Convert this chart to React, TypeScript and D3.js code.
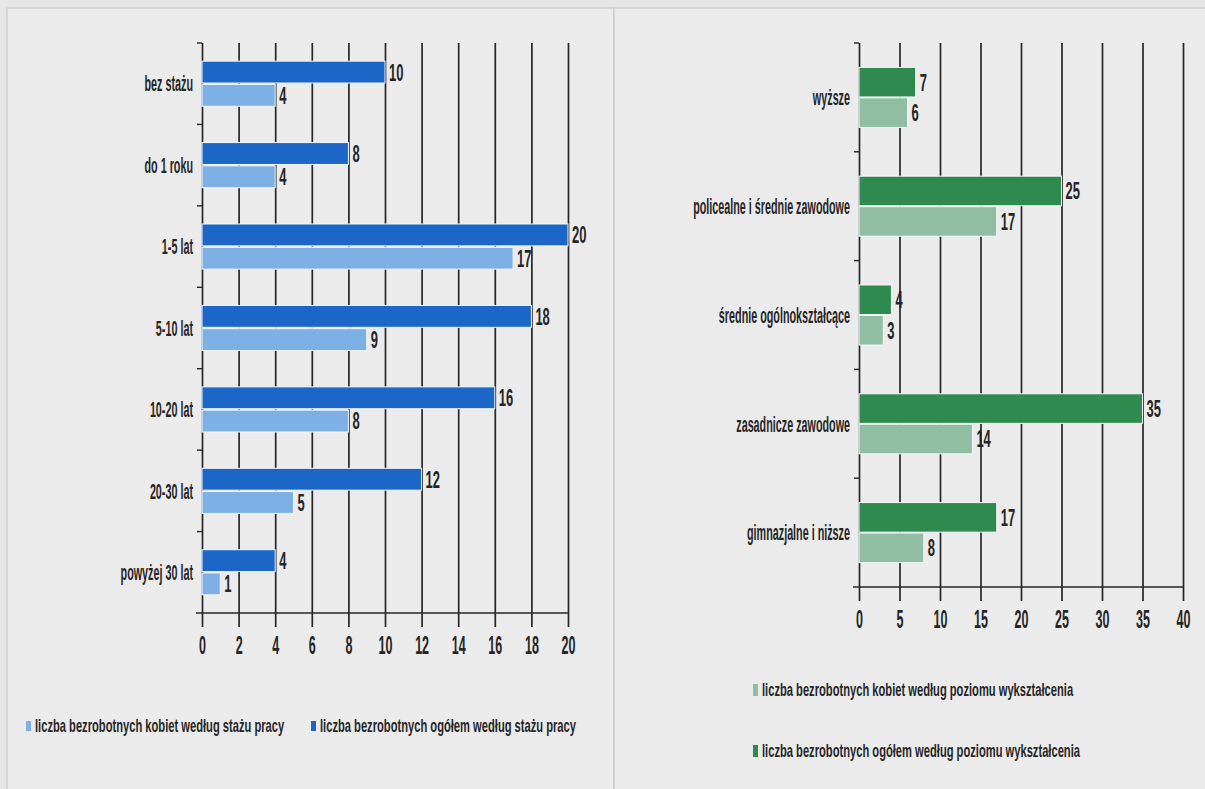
import React, { useEffect, useRef } from "react";
import * as d3 from "d3";

// staż pracy (left chart)
const stazCategories = ["bez stażu", "do 1 roku", "1-5 lat", "5-10 lat", "10-20 lat", "20-30 lat", "powyżej 30 lat"];
const stazOgolem = [10, 8, 20, 18, 16, 12, 4];
const stazKobiety = [4, 4, 17, 9, 8, 5, 1];
const stazLegend = ["liczba bezrobotnych kobiet według stażu pracy", "liczba bezrobotnych ogółem według stażu pracy"];

// poziom wykształcenia (right chart)
const eduCategories = ["wyższe", "policealne i średnie zawodowe", "średnie ogólnokształcące", "zasadnicze zawodowe", "gimnazjalne i niższe"];
const eduOgolem = [7, 25, 4, 35, 17];
const eduKobiety = [6, 17, 3, 14, 8];
const eduLegend = ["liczba bezrobotnych kobiet według poziomu wykształcenia", "liczba bezrobotnych ogółem według poziomu wykształcenia"];

const FONT = "'Liberation Sans', Arial, sans-serif";
const INK = "#262626";

type ChartConf = {
  categories: string[];
  total: number[];
  women: number[];
  xMax: number;
  tickCount: number;
  x0: number;
  x1: number;
  top: number;
  axisY: number;
  subOuter: number;
  subInner: number;
  dark: string;
  light: string;
};

function drawChart(svg: any, c: ChartConf) {
  const x = d3.scaleLinear().domain([0, c.xMax]).range([c.x0, c.x1]);
  const y = d3.scaleBand<string>().domain(c.categories).range([c.top, c.axisY]);
  const sub = d3
    .scaleBand<string>()
    .domain(["ogolem", "kobiety"])
    .range([0, y.step()])
    .paddingOuter(c.subOuter)
    .paddingInner(c.subInner);

  const g = svg.append("g");

  // vertical gridlines
  g.append("g")
    .attr("transform", `translate(0,${c.axisY})`)
    .call(d3.axisBottom(x).ticks(c.tickCount).tickSize(-(c.axisY - c.top)).tickFormat(() => ""))
    .call((s: any) => s.select(".domain").remove())
    .selectAll("line")
    .attr("stroke", INK)
    .attr("stroke-width", 1.7);

  // bottom axis: ticks below + labels
  const ax = g
    .append("g")
    .attr("transform", `translate(0,${c.axisY})`)
    .call(d3.axisBottom(x).ticks(c.tickCount).tickSize(14).tickPadding(9).tickSizeOuter(0));
  ax.select(".domain").remove();
  ax.selectAll("line").attr("stroke", INK).attr("stroke-width", 1.7);
  ax.selectAll("text")
    .attr("font-family", FONT)
    .attr("font-weight", "bold")
    .attr("font-size", 25)
    .attr("fill", INK)
    .attr("transform", "scale(0.5,1)");

  // horizontal axis line
  g.append("line")
    .attr("x1", c.x0 - 6)
    .attr("x2", c.x1)
    .attr("y1", c.axisY)
    .attr("y2", c.axisY)
    .attr("stroke", INK)
    .attr("stroke-width", 1.4);

  // category boundary ticks on y axis
  const bounds = c.categories.map((d) => y(d) as number);
  g.selectAll(".ytick")
    .data(bounds)
    .join("line")
    .attr("x1", c.x0 - 5)
    .attr("x2", c.x0)
    .attr("y1", (d: number) => d)
    .attr("y2", (d: number) => d)
    .attr("stroke", INK)
    .attr("stroke-width", 1.4);

  // category labels
  g.selectAll(".cat")
    .data(c.categories)
    .join("text")
    .attr("transform", (d: string) => `translate(${c.x0 - 9},${(y(d) as number) + y.step() / 2}) scale(0.49,1)`)
    .attr("text-anchor", "end")
    .attr("dy", "0.35em")
    .attr("font-family", FONT)
    .attr("font-weight", "bold")
    .attr("font-size", 22)
    .attr("fill", INK)
    .text((d: string) => d);

  const series = [
    { key: "ogolem", values: c.total, color: c.dark },
    { key: "kobiety", values: c.women, color: c.light },
  ];

  series.forEach((s) => {
    const rows = c.categories.map((cat, i) => ({ cat, v: s.values[i] }));
    g.selectAll(`.bar-${s.key}`)
      .data(rows)
      .join("rect")
      .attr("x", x(0))
      .attr("y", (d: any) => (y(d.cat) as number) + (sub(s.key) as number))
      .attr("width", (d: any) => x(d.v) - x(0))
      .attr("height", sub.bandwidth())
      .attr("fill", s.color)
      .attr("stroke", "#f4f7fb")
      .attr("stroke-width", 1);

    g.selectAll(`.val-${s.key}`)
      .data(rows)
      .join("text")
      .attr(
        "transform",
        (d: any) =>
          `translate(${x(d.v) + 4},${(y(d.cat) as number) + (sub(s.key) as number) + sub.bandwidth() / 2}) scale(0.54,1)`
      )
      .attr("dy", "0.35em")
      .attr("font-family", FONT)
      .attr("font-weight", "bold")
      .attr("font-size", 24)
      .attr("fill", INK)
      .text((d: any) => d.v);
  });
}

function drawLegendItem(svg: any, x: number, y: number, w: number, h: number, color: string, label: string) {
  svg.append("rect").attr("x", x).attr("y", y - h / 2).attr("width", w).attr("height", h).attr("fill", color);
  svg
    .append("text")
    .attr("transform", `translate(${x + w + 4},${y}) scale(0.62,1)`)
    .attr("dy", "0.35em")
    .attr("font-family", FONT)
    .attr("font-weight", "bold")
    .attr("font-size", 18)
    .attr("fill", INK)
    .text(label);
}

export default function App() {
  const svgRef = useRef<SVGSVGElement>(null);

  useEffect(() => {
    const w = 1205;
    const h = 789;
    const svg = d3.select(svgRef.current).attr("width", w).attr("height", h);
    svg.selectAll("*").remove();

    // background + panels
    svg.append("rect").attr("width", w).attr("height", h).attr("fill", "#e6e6e7");
    svg.append("rect").attr("x", 7).attr("y", 8).attr("width", 607).attr("height", h).attr("fill", "#ebebeb").attr("stroke", "#c4c4c4");
    svg.append("rect").attr("x", 614).attr("y", 8).attr("width", 600).attr("height", h).attr("fill", "#ebebeb").attr("stroke", "#c4c4c4");

    drawChart(svg, {
      categories: stazCategories,
      total: stazOgolem,
      women: stazKobiety,
      xMax: 20,
      tickCount: 10,
      x0: 202,
      x1: 568,
      top: 43,
      axisY: 613,
      subOuter: 0.78,
      subInner: 0.06,
      dark: "#1b66c6",
      light: "#7db0e4",
    });

    drawChart(svg, {
      categories: eduCategories,
      total: eduOgolem,
      women: eduKobiety,
      xMax: 40,
      tickCount: 8,
      x0: 859,
      x1: 1183,
      top: 43,
      axisY: 587,
      subOuter: 0.8,
      subInner: 0.03,
      dark: "#2e8a4e",
      light: "#8fbea2",
    });

    drawLegendItem(svg, 26, 726, 5, 10, "#7db0e4", stazLegend[0]);
    drawLegendItem(svg, 311, 726, 5, 10, "#1b66c6", stazLegend[1]);
    drawLegendItem(svg, 753, 690, 5, 12, "#8fbea2", eduLegend[0]);
    drawLegendItem(svg, 753, 751, 5, 12, "#2e8a4e", eduLegend[1]);
  }, []);

  return (
    <div style={{ position: "absolute", left: 0, top: 0 }}>
      <svg ref={svgRef} style={{ display: "block" }}></svg>
    </div>
  );
}
